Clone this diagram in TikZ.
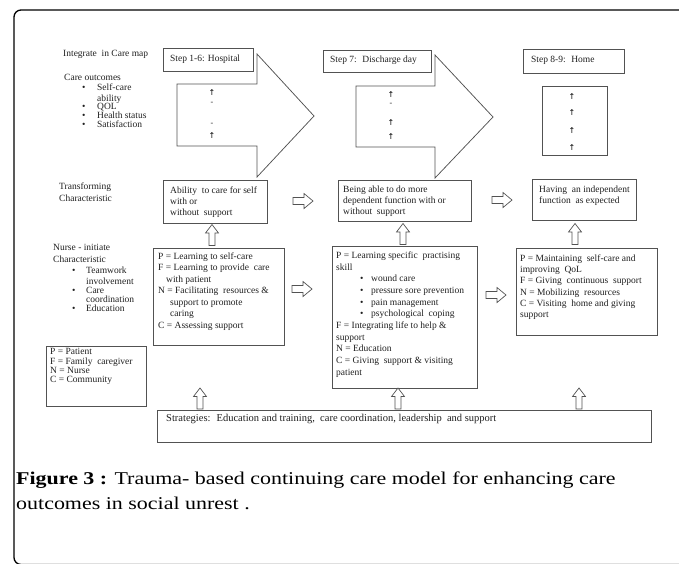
\documentclass[tikz,border=0pt]{standalone}
\usepackage{fontspec}
\setmainfont{Liberation Serif}
\newfontfamily\capfont[FakeStretch=1.22]{Liberation Serif}
\newfontfamily\symfont{DejaVu Sans}
\definecolor{lg}{gray}{0.32}
\definecolor{tx}{gray}{0.12}
\begin{document}
\begin{tikzpicture}[x=1pt,y=-1pt,
  bx/.style={draw=lg, line width=0.75pt, anchor=north west, inner sep=0pt},
  ln/.style={anchor=base west, inner sep=0pt, text=tx, font=\fontsize{9.5}{11}\selectfont},
  tb/.style={anchor=north west, inner sep=0pt, align=left, text=tx, font=\fontsize{9.5}{#1}\selectfont},
  upa/.style={inner sep=0pt, text=black, font=\symfont\fontsize{8}{8}\selectfont},
  dsh/.style={inner sep=0pt, text=tx, font=\fontsize{8}{8}\selectfont},
  harrowR/.pic={\draw[lg, line width=0.7pt, fill=white] (-10,-3.5) -- (1,-3.5) -- (1,-7.5) -- (10,0) -- (1,7.5) -- (1,3.5) -- (-10,3.5) -- cycle;},
  harrowU/.pic={\draw[lg, line width=0.7pt, fill=white] (-3,10.5) -- (-3,-2) -- (-6.5,-2) -- (0,-10.5) -- (6.5,-2) -- (3,-2) -- (3,10.5) -- cycle;}
]
\useasboundingbox (0,0) rectangle (679,563);
\begin{scope}
\clip (0,0) rectangle (679,563);
\draw[line width=1.3pt, rounded corners=7pt] (720,10) -- (14,10) -- (14,564.5) -- (720,564.5);
\end{scope}

% left labels
\node[ln] (lint) at (63,56) {Integrate~ in Care map};
\node[ln] (lco) at (64,80) {Care outcomes};
\node[tb=8.8] (lcol) at (82,84) {\strut\makebox[15pt][l]{•}Self-care\\\hspace*{15pt}ability\\\makebox[15pt][l]{•}QOL\\\makebox[15pt][l]{•}Health status\\\makebox[15pt][l]{•}Satisfaction};
\node[tb=12] (ltr) at (59,181) {\strut Transforming\\Characteristic};
\node[tb=12] (lnu) at (53,242) {\strut Nurse - initiate\\Characteristic};
\node[tb=9] (lnul) at (72,267) {\strut\makebox[14pt][l]{•}Teamwork\\\hspace*{14pt}involvement\\\makebox[14pt][l]{•}Care\\\hspace*{14pt}coordination\\\makebox[14pt][l]{•}Education};

% step boxes
\node[bx, minimum width=90pt, minimum height=23pt] (s1) at (163,48) {};
\node[ln] (s1t) at (170,61) {Step 1-6: Hospital};
\node[bx, minimum width=108pt, minimum height=22pt] (s2) at (323,50) {};
\node[ln] (s2t) at (330,62) {Step 7:~ Discharge day};
\node[bx, minimum width=101pt, minimum height=24pt] (s3) at (523,49) {};
\node[ln] (s3t) at (531,62) {Step 8-9:~ Home};

% big arrows
\draw[lg, line width=0.75pt] (177,84) -- (257,84) -- (257,54) -- (314,116) -- (257,177) -- (257,146) -- (177,146) -- cycle;
\draw[lg, line width=0.75pt] (356,86) -- (435,86) -- (435,55) -- (493,117) -- (435,178) -- (435,147) -- (356,147) -- cycle;
\node[bx, minimum width=65pt, minimum height=69pt] (in3) at (542,86) {};

% small up arrows
\node[upa] (a1a) at (212,93) {↑};
\node[dsh] (a1b) at (212,103) {-};
\node[dsh] (a1c) at (212,124) {-};
\node[upa] (a1d) at (212,136) {↑};
\node[upa] (a2a) at (391,95) {↑};
\node[dsh] (a2b) at (391,104) {-};
\node[upa] (a2c) at (391,123) {↑};
\node[upa] (a2d) at (391,137) {↑};
\node[upa] (a3a) at (572,97) {↑};
\node[upa] (a3b) at (572,113) {↑};
\node[upa] (a3c) at (572,131) {↑};
\node[upa] (a3d) at (572,148) {↑};

% transforming boxes
\node[bx, minimum width=104pt, minimum height=43pt] (ab) at (163,180) {};
\node[tb=11] (abt) at (170,185.5) {\strut Ability~ to care for self\\with or\\without~ support};
\node[bx, minimum width=133pt, minimum height=41pt] (be) at (338,180) {};
\node[tb=11] (bet) at (343,184.5) {\strut Being able to do more\\dependent function with or\\without~ support};
\node[bx, minimum width=104pt, minimum height=41pt] (ha) at (532,179) {};
\node[tb=11] (hat) at (539,184.5) {\strut Having~ an independent\\function~ as expected};

% nurse boxes
\node[bx, minimum width=131pt, minimum height=97pt] (pl) at (153,248) {};
\node[tb=11.5] (plt) at (158,251.2) {\strut P = Learning to self-care\\F = Learning to provide~ care\\\hspace*{8pt}with patient\\N = Facilitating~ resources \&\\\hspace*{12pt}support to promote\\\hspace*{12pt}caring\\C = Assessing support};
\node[bx, minimum width=145pt, minimum height=142pt] (pm) at (332,246) {};
\node[tb=11.7] (pmt) at (336,250) {\strut P = Learning specific~ practising\\skill\\\hspace*{24pt}\makebox[11pt][l]{•}wound care\\\hspace*{24pt}\makebox[11pt][l]{•}pressure sore prevention\\\hspace*{24pt}\makebox[11pt][l]{•}pain management\\\hspace*{24pt}\makebox[11pt][l]{•}psychological~ coping\\F = Integrating life to help \&\\support\\N = Education\\C = Giving~ support \& visiting\\patient};
\node[bx, minimum width=141pt, minimum height=87pt] (pr) at (516,248) {};
\node[tb=11.2] (prt) at (520,253.4) {\strut P = Maintaining~ self-care and\\improving~ QoL\\F = Giving~ continuous~ support\\N = Mobilizing~ resources\\C = Visiting~ home and giving\\support};

% legend
\node[bx, minimum width=100pt, minimum height=60pt] (lgd) at (46,346) {};
\node[tb=9] (lgdt) at (50,347.9) {\strut P = Patient\\F = Family~ caregiver\\N = Nurse\\C = Community};

% strategies
\node[bx, minimum width=494pt, minimum height=32pt] (st) at (157,410) {};
\node[anchor=base west, inner sep=0pt, text=tx, font=\fontsize{10.5}{12}\selectfont] (stt) at (166,421.5) {Strategies:~ Education and training,~ care coordination, leadership~ and support};

% hollow arrows
\pic at (303,201) {harrowR};
\pic at (502,200) {harrowR};
\pic at (302,289) {harrowR};
\pic at (496,295) {harrowR};
\pic at (212,235) {harrowU};
\pic at (403,234) {harrowU};
\pic at (575,234) {harrowU};
\pic at (200,398.5) {harrowU};
\pic at (398,398.5) {harrowU};
\pic at (579,398.5) {harrowU};

% caption
\node[anchor=base west, inner sep=0pt, font=\capfont\fontsize{18}{25}\selectfont] (cap1) at (16,484) {\textbf{Figure 3 :} Trauma- based continuing care model for enhancing care};
\node[anchor=base west, inner sep=0pt, font=\capfont\fontsize{18}{25}\selectfont] (cap2) at (16,509) {outcomes in social unrest .};
\end{tikzpicture}
\end{document}
